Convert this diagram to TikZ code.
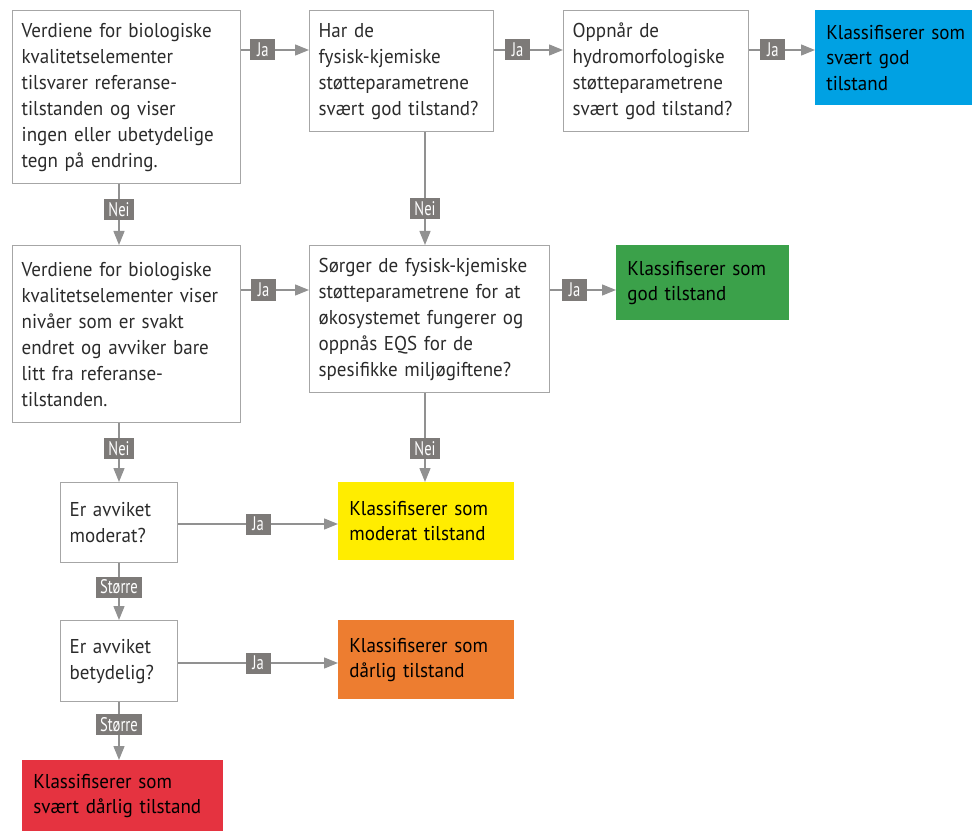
\documentclass[tikz,border=0pt]{standalone}
\usepackage{fontspec}
\setmainfont{PT Sans}[FakeStretch=0.95]
\newfontfamily\tagfont[FakeStretch=0.74]{PT Sans}
\usetikzlibrary{arrows.meta}
\hyphenpenalty=10000
\definecolor{boxgrey}{rgb}{0.65, 0.65, 0.65}
\definecolor{linegrey}{rgb}{0.57, 0.57, 0.57}
\definecolor{taggrey}{rgb}{0.49, 0.48, 0.47}
\definecolor{textgrey}{rgb}{0.17, 0.17, 0.17}
\definecolor{veryblue}{rgb}{0.0, 0.63, 0.89}
\definecolor{goodgreen}{rgb}{0.23, 0.63, 0.29}
\definecolor{modyellow}{rgb}{1.0, 0.93, 0.0}
\definecolor{pooorange}{rgb}{0.93, 0.49, 0.19}
\definecolor{badred}{rgb}{0.9, 0.2, 0.25}
\tikzset{
	question/.style={draw=boxgrey, line width=0.75pt, anchor=north west, align=left, inner xsep=1.8mm, inner ysep=0pt, text=textgrey, font=\fontsize{11.4}{14.8}\selectfont},
	verdict/.style={anchor=north west, align=left, inner xsep=2.2mm, inner ysep=0pt, text=black, font=\fontsize{11.4}{14.4}\selectfont},
	flow/.style={draw=linegrey, line width=0.8pt, -{Triangle[length=2.8mm, width=2.2mm]}},
	tag/.style={fill=taggrey, text=white, font=\tagfont\fontsize{11.2}{11}\selectfont, inner xsep=0.8mm, inner ysep=0pt, minimum height=4.2mm, minimum width=5mm},
}

\begin{document}
\begin{tikzpicture}[x=0.2mm, y=-0.2mm]
	\useasboundingbox (0,0) rectangle (972,831);
	\coordinate (row1) at (0,50);
	\coordinate (row2) at (0,290);
	\coordinate (row3) at (0,524);
	\coordinate (row4) at (0,663);
	\coordinate (col1) at (119,0);
	\coordinate (col2) at (425,0);
	
	% first column
	\node[question, text width=4.20cm, minimum height=3.46cm] (bio1) at (12,10) {Verdiene for biologiske\\ kvalitetselementer\\ tilsvarer referanse-\\ tilstanden og viser\\ ingen eller ubetydelige\\ tegn på endring.};
	\node[question, text width=4.20cm, minimum height=3.54cm] (bio2) at (12,245) {Verdiene for biologiske\\ kvalitetselementer viser\\ nivåer som er svakt\\ endret og avviker bare\\ litt fra referanse-\\ tilstanden.};
	\node[question, text width=1.98cm, minimum height=1.60cm] (moderat) at (60,482) {Er avviket\\ moderat?};
	\node[question, text width=1.98cm, minimum height=1.62cm] (betydelig) at (60,620) {Er avviket\\ betydelig?};
	
	% supporting parameters
	\node[question, text width=3.32cm, minimum height=2.42cm] (fys1) at (309,10) {Har de\\ fysisk-kjemiske\\ støtteparametrene\\ svært god tilstand?};
	\node[question, text width=3.34cm, minimum height=2.42cm] (hydro) at (563,10) {Oppnår de\\ hydromorfologiske\\ støtteparametrene\\ svært god tilstand?};
	\node[question, text width=4.44cm, minimum height=2.94cm] (fys2) at (309,245) {Sørger de fysisk-kjemiske\\ støtteparametrene for at\\ økosystemet fungerer og\\ oppnås EQS for de\\ spesifikke miljøgiftene?};
	
	% classes
	\node[verdict, fill=veryblue, text width=3.16cm, minimum height=1.90cm] (svgod) at (815,10) {Klassifiserer som\\ svært god\\ tilstand};
	\node[verdict, fill=goodgreen, text width=3.02cm, minimum height=1.50cm] (god) at (616,245) {Klassifiserer som\\ god tilstand};
	\node[verdict, fill=modyellow, text width=3.08cm, minimum height=1.56cm] (mod) at (338,482) {Klassifiserer som\\ moderat tilstand};
	\node[verdict, fill=pooorange, text width=3.08cm, minimum height=1.58cm] (darlig) at (338,620) {Klassifiserer som\\ dårlig tilstand};
	\node[verdict, fill=badred, text width=3.58cm, minimum height=1.42cm] (svdarlig) at (22,760) {Klassifiserer som\\ svært dårlig tilstand};
	
	% Ja
	\draw[flow] (bio1.east |- row1) -- node[tag, pos=0.32] {Ja} (fys1.west |- row1);
	\draw[flow] (fys1.east |- row1) -- node[tag, pos=0.34] {Ja} (hydro.west |- row1);
	\draw[flow] (hydro.east |- row1) -- node[tag, pos=0.36] {Ja} (svgod.west |- row1);
	\draw[flow] (bio2.east |- row2) -- node[tag, pos=0.33] {Ja} (fys2.west |- row2);
	\draw[flow] (fys2.east |- row2) -- node[tag, pos=0.37] {Ja} (god.west |- row2);
	\draw[flow] (moderat.east |- row3) -- node[tag, pos=0.5] {Ja} (mod.west |- row3);
	\draw[flow] (betydelig.east |- row4) -- node[tag, pos=0.5] {Ja} (darlig.west |- row4);
	
	% Nei / Større
	\draw[flow] (bio1.south -| col1) -- node[tag, pos=0.42] {Nei} (bio2.north -| col1);
	\draw[flow] (fys1.south -| col2) -- node[tag, pos=0.68] {Nei} (fys2.north -| col2);
	\draw[flow] (bio2.south -| col1) -- node[tag, pos=0.43] {Nei} (moderat.north -| col1);
	\draw[flow] (fys2.south -| col2) -- node[tag, pos=0.62] {Nei} (mod.north -| col2);
	\draw[flow] (moderat.south -| col1) -- node[tag, pos=0.42] {Større} (betydelig.north -| col1);
	\draw[flow] (betydelig.south -| col1) -- node[tag, pos=0.39] {Større} (svdarlig.north -| col1);
\end{tikzpicture}
\end{document}
